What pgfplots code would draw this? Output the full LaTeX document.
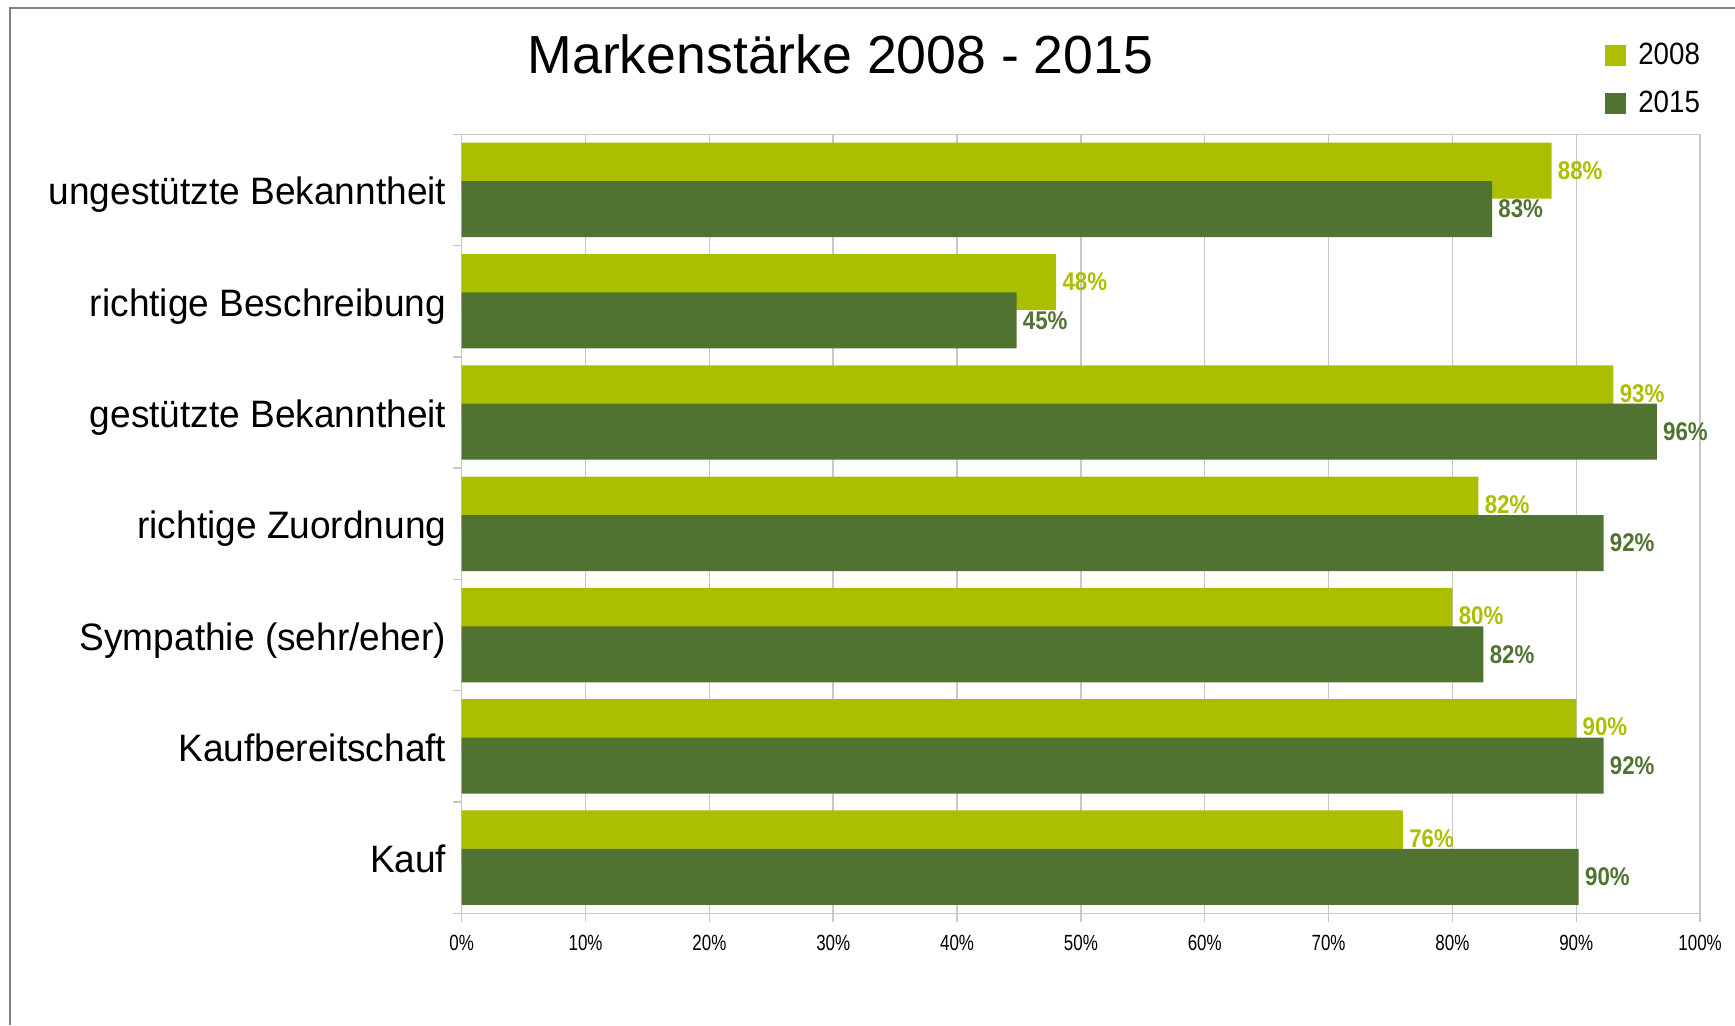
\documentclass[border=0pt]{standalone}
\usepackage{pgfplots}
\pgfplotsset{compat=1.18}
\usepackage{fontspec}
\setmainfont{Liberation Sans}
\newfontfamily\catfont{Liberation Sans}[FakeStretch=0.97]
\newfontfamily\tickfont{Liberation Sans}[FakeStretch=0.77]
\newfontfamily\legfont{Liberation Sans}[FakeStretch=0.9]
\newfontfamily\valfont{Liberation Sans}[FakeStretch=0.87]
\definecolor{lg}{RGB}{172,190,0}
\definecolor{dg}{RGB}{80,115,50}
\definecolor{gridc}{RGB}{200,200,200}
\definecolor{framec}{RGB}{128,128,128}
\begin{document}
\begin{tikzpicture}
\useasboundingbox (0,0) rectangle (867.5pt,512.5pt);
\draw[line width=1pt, framec] (5pt,0) -- (5pt,508.65pt) -- (867.5pt,508.65pt);
\node[anchor=base west, inner sep=0pt, font=\fontsize{26.8}{30}\selectfont] at (263.6pt,475.5pt) {Markenstärke 2008 - 2015};
\begin{axis}[
  at={(230.85pt,55.85pt)}, anchor=south west,
  scale only axis, width=619.2pt, height=389.5pt,
  xbar, bar width=28pt,
  xmin=0, xmax=100, ymin=-0.5, ymax=6.5,
  axis line style={gridc, line width=0.75pt},
  tick style={gridc, line width=0.75pt},
  major tick length=4.3pt, tick align=outside,
  xtick pos=bottom, ytick pos=left,
  xtick={0,10,...,100},
  xticklabels={0\%,10\%,20\%,30\%,40\%,50\%,60\%,70\%,80\%,90\%,100\%},
  xticklabel style={font=\tickfont\fontsize{11}{12}\selectfont, anchor=base, inner sep=0pt, yshift=-14.1pt},
  xmajorgrids, grid style={gridc, line width=0.75pt},
  ytick={-0.5,0.5,...,6.5}, yticklabels={},
  extra y ticks={0,1,2,3,4,5,6},
  extra y tick labels={Kauf, Kaufbereitschaft, Sympathie (sehr/eher), richtige Zuordnung, gestützte Bekanntheit, richtige Beschreibung, ungestützte Bekanntheit},
  extra y tick style={major tick length=0pt, yticklabel style={font=\catfont\fontsize{19.1}{22}\selectfont, anchor=base east, inner sep=0pt, xshift=-7.5pt, yshift=-7.5pt}},
  legend image code/.code={\fill[#1] (0pt,-5.175pt) rectangle (10.35pt,5.175pt);},
  legend style={at={(axis description cs:0.9232,1.1168)}, anchor=north west, draw=none, fill=none, inner sep=0pt, outer sep=0pt, row sep=11.8pt, column sep=6.3pt, font=\legfont\fontsize{15.4}{18}\selectfont, nodes={inner sep=0pt}},
  legend cell align=left,
  point meta=explicit symbolic,
  nodes near coords={\pgfplotspointmeta\%},
  nodes near coords style={anchor=west, inner sep=0pt, xshift=3pt, font=\valfont\bfseries\fontsize{12.8}{14}\selectfont},
]
\addplot[fill=lg, draw=none, bar shift=9.6pt, nodes near coords style={text=lg}] coordinates {
  (88,6) [88] (48,5) [48] (93,4) [93] (82.1,3) [82] (80,2) [80] (90,1) [90] (76,0) [76]
};
\addplot[fill=dg, draw=none, bar shift=-9.6pt, nodes near coords style={text=dg}] coordinates {
  (83.2,6) [83] (44.8,5) [45] (96.5,4) [96] (92.2,3) [92] (82.5,2) [82] (92.2,1) [92] (90.2,0) [90]
};
\legend{2008,2015}
\end{axis}
\end{tikzpicture}
\end{document}
